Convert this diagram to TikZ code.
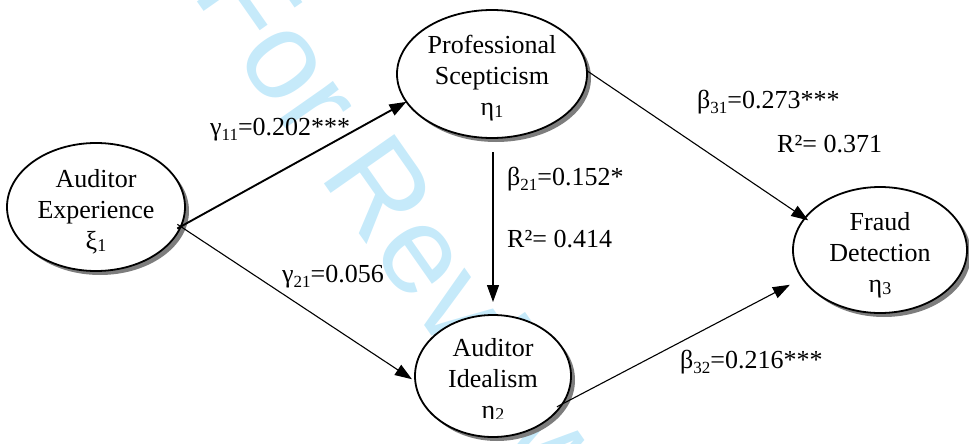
\documentclass[tikz,border=0pt]{standalone}
\usepackage{fontspec}
\setmainfont{Liberation Serif}
\newfontfamily\wmfont{Liberation Sans}
\usetikzlibrary{shapes.geometric,arrows.meta,shadows}
\definecolor{wmblue}{RGB}{198,234,250}
\definecolor{shadowgray}{RGB}{125,125,125}
\newcommand\lsub[1]{\raisebox{-5pt}{\fontsize{17}{17}\selectfont #1}}
\newcommand\nsub[1]{\raisebox{-2pt}{\fontsize{18}{18}\selectfont #1}}
\begin{document}
\begin{tikzpicture}[x=1pt,y=-1pt,
  latent/.style={ellipse, draw=black, line width=1.8pt, fill=white, inner sep=0pt, outer sep=0pt,
    drop shadow={shadow xshift=4pt, shadow yshift=-4pt, fill=shadowgray, opacity=1}},
  intext/.style={align=center, inner sep=0pt, font=\fontsize{26}{31}\selectfont},
  lbl/.style={anchor=base west, inner sep=0pt, font=\fontsize{26}{31}\selectfont},
  arr/.style={-{Triangle[length=17pt,width=12pt]}, line width=1.1pt},
  wm/.style={anchor=base west, inner sep=0pt, rotate=-55, text=wmblue, font=\wmfont\fontsize{125}{125}\selectfont}
]
\useasboundingbox (0,0) rectangle (969,444);
% watermark
\node[wm] (wmark) at (191,-7) {For Review Only};
% latent variables
\node[latent, minimum width=178pt, minimum height=128pt] (AE) at (96,207) {};
\node[latent, minimum width=190pt, minimum height=128pt] (PS) at (492,74) {};
\node[latent, minimum width=156pt, minimum height=122pt] (AI) at (493,376) {};
\node[latent, minimum width=174pt, minimum height=126pt] (FD) at (880,250) {};
% texts in ellipses
\node[intext] (AEt) at ([yshift=-5pt]AE.center) {Auditor\\Experience\\ξ\nsub{1}};
\node[intext] (PSt) at ([yshift=-4pt]PS.center) {Professional\\Scepticism\\η\nsub{1}};
\node[intext] (FDt) at ([yshift=-5pt]FD.center) {Fraud\\Detection\\η\nsub{3}};
\begin{scope}
  \clip (400,300) rectangle (600,418);
  \node[intext] (AIt) at ([yshift=-5pt]AI.center) {Auditor\\Idealism\\η\nsub{2}};
\end{scope}
% paths
\draw[arr, line width=1.9pt, shorten <=-4pt] (AE.-13) -- (PS.198);
\draw[arr, shorten <=-4pt, shorten >=4pt] (AE.-13) -- (AI.184);
\draw[arr, shorten <=14pt, shorten >=13pt] (PS.south -| AI.north) -- (AI.north);
\draw[arr, shorten >=-4pt] (PS.2) -- (FD.157);
\draw[arr, shorten <=-6pt, shorten >=14pt] (AI.-22) -- (FD.200);
% coefficients
\node[lbl] (g11) at (210,135) {γ\lsub{11}=0.202***};
\node[lbl] (g21) at (282,282) {γ\lsub{21}=0.056};
\node[lbl] (b21) at (507,185) {β\lsub{21}=0.152*};
\node[lbl] (r1) at (507,247) {R²= 0.414};
\node[lbl] (b31) at (697,108) {β\lsub{31}=0.273***};
\node[lbl] (r3) at (777,152) {R²= 0.371};
\node[lbl] (b32) at (680,368) {β\lsub{32}=0.216***};
\end{tikzpicture}
\end{document}
